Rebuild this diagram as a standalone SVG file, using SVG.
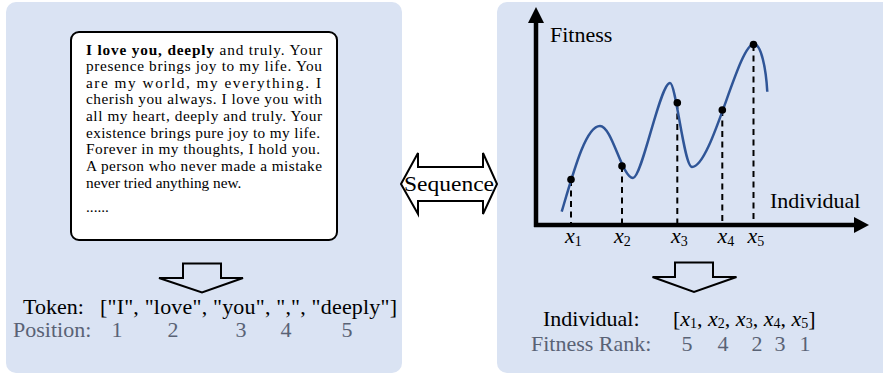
<svg xmlns="http://www.w3.org/2000/svg" width="883" height="376" viewBox="0 0 883 376">
<defs>
<style>
.panel{fill:#dae3f3}
.t{font-family:"Liberation Serif","Times New Roman",serif;fill:#000}
.body{font-size:15.3px}
.lbl{font-size:22px}
.gray{fill:#596275}
.hollow{fill:none;stroke:#000;stroke-width:2;stroke-linejoin:miter}
.axis{stroke:#000;stroke-width:4.5;fill:none}
.dash{stroke:#000;stroke-width:2;stroke-dasharray:6 4.5;fill:none}
.curve{stroke:#2f5597;stroke-width:2.5;fill:none}
.dot{fill:#000}
.xi{font-style:italic}
.sub{font-size:14px}
</style>
</defs>
<rect x="0" y="0" width="883" height="376" fill="#fff"/>
<g id="left-panel">
<rect class="panel" x="6" y="2" width="396" height="371" rx="10"/>
</g>
<g id="right-panel">
<rect class="panel" x="497" y="2" width="400" height="371" rx="10"/>
</g>
<g id="text-box">
<rect x="71" y="32" width="266" height="208" rx="8" fill="#fff" stroke="#000" stroke-width="2"/>
<text class="t body" x="86" y="54.5" textLength="236" lengthAdjust="spacing"><tspan font-weight="bold">I love you, deeply</tspan> and truly. Your</text>
<text class="t body" x="86" y="71" textLength="236" lengthAdjust="spacing">presence brings joy to my life. You</text>
<text class="t body" x="86" y="87.7" textLength="235" lengthAdjust="spacing">are my world, my everything. I</text>
<text class="t body" x="86" y="104.3" textLength="236" lengthAdjust="spacing">cherish you always. I love you with</text>
<text class="t body" x="86" y="121" textLength="236" lengthAdjust="spacing">all my heart, deeply and truly. Your</text>
<text class="t body" x="86" y="137.7" textLength="234" lengthAdjust="spacing">existence brings pure joy to my life.</text>
<text class="t body" x="86" y="154.3" textLength="234" lengthAdjust="spacing">Forever in my thoughts, I hold you.</text>
<text class="t body" x="86" y="171" textLength="236" lengthAdjust="spacing">A person who never made a mistake</text>
<text class="t body" x="86" y="187.7">never tried anything new.</text>
<text class="t body" x="86" y="212">......</text>
</g>
<g id="left-down-arrow">
<polygon class="hollow" points="183,263.5 221,263.5 221,278 243,278 202,292.5 159,278 183,278"/>
</g>
<g id="token-row">
<text class="t lbl" x="23" y="314">Token:</text>
<text class="t lbl" x="100" y="314" textLength="297" lengthAdjust="spacing">["I", "love", "you", ",", "deeply"]</text>
</g>
<g id="position-row">
<text class="t lbl gray" x="13" y="337">Position:</text>
<g class="t lbl gray" text-anchor="middle">
<text x="117" y="337">1</text>
<text x="173" y="337">2</text>
<text x="241" y="337">3</text>
<text x="286" y="337">4</text>
<text x="347" y="337">5</text>
</g>
</g>
<g id="sequence-arrow">
<polygon points="401,184 418,153 418,167 483,167 483,153 497,184 483,214 483,201 418,201 418,214" fill="#fff" stroke="#000" stroke-width="2" stroke-linejoin="miter"/>
<text class="t" x="449" y="191" font-size="22" text-anchor="middle" textLength="90" lengthAdjust="spacingAndGlyphs">Sequence</text>
</g>
<g id="axes">
<line class="axis" x1="536" y1="227" x2="536" y2="20"/>
<polygon points="536,7 528,23 544,23"/>
<line class="axis" x1="534" y1="225" x2="857" y2="225"/>
<polygon points="869,225 854,217 854,233"/>
<text class="t lbl" x="550" y="42">Fitness</text>
<text class="t lbl" x="770" y="208">Individual</text>
</g>
<g id="connectors">
<line class="dash" x1="571" y1="180" x2="571" y2="223"/>
<line class="dash" x1="622" y1="166" x2="622" y2="223"/>
<line class="dash" x1="677.3" y1="103" x2="677.3" y2="223"/>
<line class="dash" x1="722.3" y1="110" x2="722.3" y2="223"/>
<line class="dash" x1="753.5" y1="45" x2="753.5" y2="223"/>
</g>
<g id="fitness-curve">
<path class="curve" d="M561.7,211.7 C574,170 586,126 600,126 C612,126 622,178 633,178 C642,178 660,83 670,83 C676,83 684,167 692,167 C712,167 738,44 754,44 C761,44 766,68 767.3,91.7"/>
</g>
<g id="points">
<circle class="dot" cx="571" cy="179.5" r="3.8"/>
<circle class="dot" cx="622" cy="166" r="3.8"/>
<circle class="dot" cx="677.3" cy="102.7" r="3.8"/>
<circle class="dot" cx="722.3" cy="110" r="3.8"/>
<circle class="dot" cx="753.5" cy="44.5" r="3.8"/>
</g>
<g id="x-labels" class="t lbl">
<text x="565" y="243"><tspan class="xi">x</tspan><tspan class="sub" dy="3">1</tspan></text>
<text x="614" y="243"><tspan class="xi">x</tspan><tspan class="sub" dy="3">2</tspan></text>
<text x="671" y="243"><tspan class="xi">x</tspan><tspan class="sub" dy="3">3</tspan></text>
<text x="717.5" y="243"><tspan class="xi">x</tspan><tspan class="sub" dy="3">4</tspan></text>
<text x="747.5" y="243"><tspan class="xi">x</tspan><tspan class="sub" dy="3">5</tspan></text>
</g>
<g id="right-down-arrow">
<polygon class="hollow" points="675,262.5 713,262.5 713,277 736.5,277 694,292 652.5,277 675,277"/>
</g>
<g id="individual-row">
<text class="t lbl" x="543" y="326">Individual:</text>
<text class="t lbl" x="673" y="326">[<tspan class="xi">x</tspan><tspan class="sub" dy="2">1</tspan><tspan dy="-2">, </tspan><tspan class="xi">x</tspan><tspan class="sub" dy="2">2</tspan><tspan dy="-2">, </tspan><tspan class="xi">x</tspan><tspan class="sub" dy="2">3</tspan><tspan dy="-2">, </tspan><tspan class="xi">x</tspan><tspan class="sub" dy="2">4</tspan><tspan dy="-2">, </tspan><tspan class="xi">x</tspan><tspan class="sub" dy="2">5</tspan><tspan dy="-2">]</tspan></text>
</g>
<g id="rank-row">
<text class="t lbl gray" x="531" y="351">Fitness Rank:</text>
<g class="t lbl gray" text-anchor="middle">
<text x="687" y="351">5</text>
<text x="723" y="351">4</text>
<text x="757" y="351">2</text>
<text x="780" y="351">3</text>
<text x="805" y="351">1</text>
</g>
</g>
</svg>
